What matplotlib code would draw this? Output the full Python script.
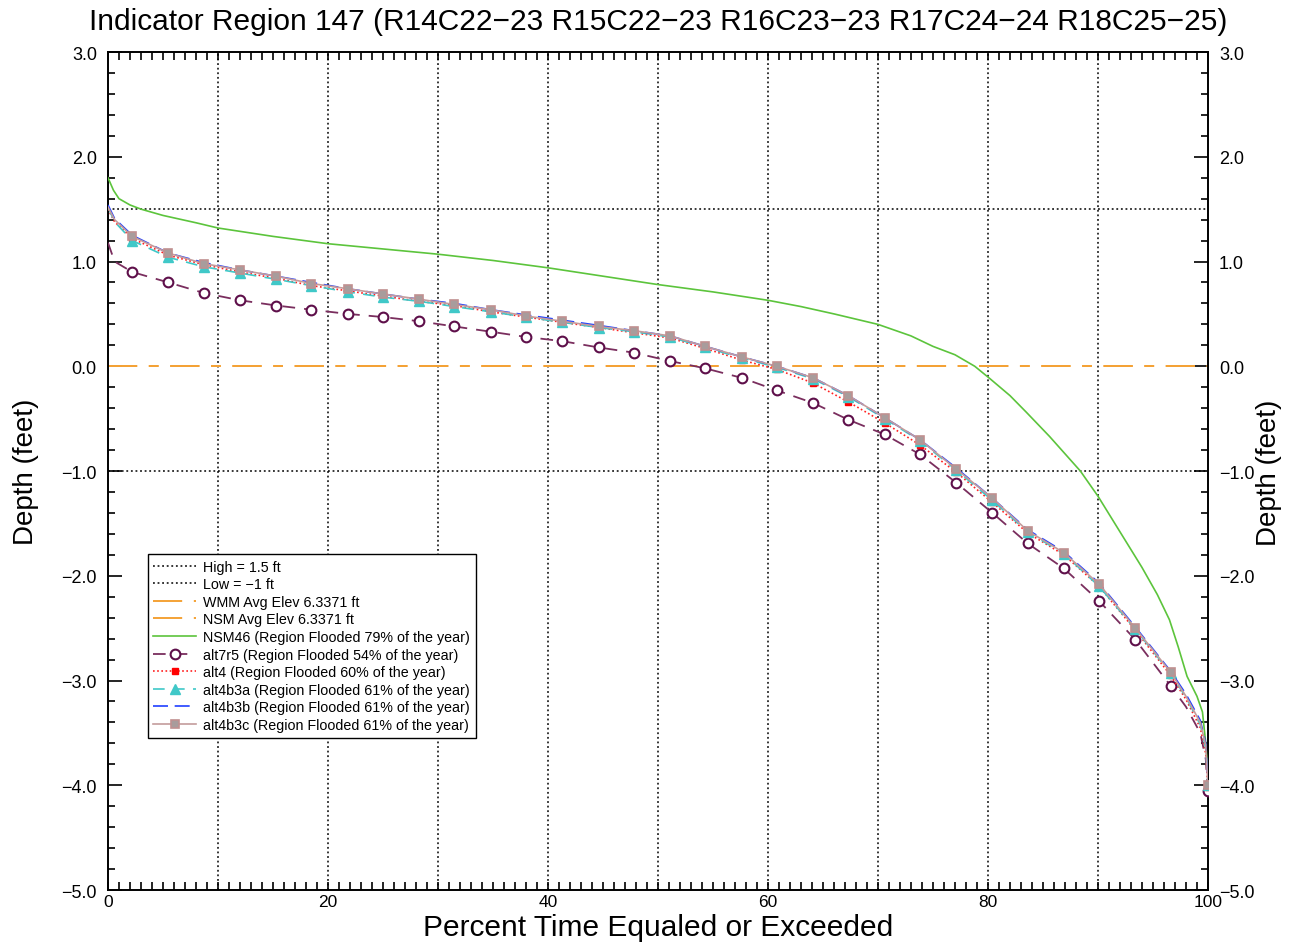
import matplotlib
matplotlib.use("Agg")
import matplotlib.pyplot as plt
from matplotlib.ticker import MultipleLocator, FuncFormatter

plt.rcParams['font.family'] = ['Liberation Sans', 'DejaVu Sans']

# ---------------- data ----------------
title = "Indicator Region 147 (R14C22\u221223 R15C22\u221223 R16C23\u221223 R17C24\u221224 R18C25\u221225)"

high_level = 1.5
low_level = -1.0
avg_elev = 0.0

# percent of time axis for the alternatives
x_alt = [0, 0.6, 2.2, 5.5, 8.7, 12.0, 15.3, 18.5, 21.8, 25.0, 28.3, 31.5, 34.8, 38.0,
         41.3, 44.6, 47.8, 51.1, 54.3, 57.6, 60.8, 64.1, 67.3, 70.6, 73.8, 77.1, 80.4,
         83.6, 86.9, 90.1, 93.4, 96.6, 98.0, 99.3, 99.8, 100]
marker_x = x_alt[2:32] + [100]

alt7r5 = [1.18, 1.00, 0.90, 0.80, 0.70, 0.63, 0.58, 0.54, 0.50, 0.47, 0.43, 0.38, 0.33, 0.28,
          0.24, 0.18, 0.13, 0.05, -0.02, -0.11, -0.23, -0.35, -0.51, -0.65, -0.84, -1.11, -1.40,
          -1.69, -1.93, -2.24, -2.61, -3.05, -3.25, -3.50, -3.75, -4.05]
alt4 = [1.50, 1.38, 1.22, 1.06, 0.97, 0.90, 0.84, 0.77, 0.72, 0.67, 0.62, 0.58, 0.52, 0.47,
        0.42, 0.37, 0.32, 0.27, 0.17, 0.06, -0.03, -0.16, -0.34, -0.54, -0.75, -1.01, -1.30,
        -1.59, -1.80, -2.10, -2.52, -2.95, -3.18, -3.45, -3.70, -4.02]
alt4b3a = [1.52, 1.38, 1.20, 1.04, 0.95, 0.89, 0.83, 0.77, 0.71, 0.66, 0.62, 0.57, 0.52, 0.47,
           0.42, 0.37, 0.33, 0.28, 0.18, 0.08, -0.01, -0.12, -0.29, -0.50, -0.71, -0.99, -1.28,
           -1.58, -1.79, -2.10, -2.51, -2.93, -3.16, -3.42, -3.65, -4.00]
alt4b3b = [1.54, 1.41, 1.25, 1.08, 0.99, 0.92, 0.86, 0.80, 0.74, 0.69, 0.64, 0.60, 0.54, 0.49,
           0.44, 0.39, 0.34, 0.29, 0.19, 0.09, 0.00, -0.11, -0.28, -0.49, -0.70, -0.97, -1.26,
           -1.56, -1.77, -2.07, -2.49, -2.91, -3.13, -3.38, -3.60, -3.98]
alt4b3c = [1.52, 1.40, 1.24, 1.08, 0.98, 0.92, 0.86, 0.79, 0.74, 0.69, 0.64, 0.59, 0.54, 0.48,
           0.43, 0.38, 0.34, 0.29, 0.19, 0.09, 0.00, -0.11, -0.28, -0.49, -0.70, -0.98, -1.26,
           -1.57, -1.78, -2.08, -2.50, -2.92, -3.15, -3.40, -3.62, -4.00]

x_nsm = [0, 0.5, 1, 2, 3, 5, 8, 10, 15, 20, 25, 30, 35, 40, 45, 50, 55, 60, 63, 66, 70, 73,
         75, 77, 78.8, 80.2, 82, 83.5, 85.6, 88.4, 90, 92, 94, 95.4, 96.5, 97.3, 98.1, 99,
         99.5, 99.8, 100]
nsm46 = [1.80, 1.68, 1.60, 1.54, 1.50, 1.44, 1.37, 1.32, 1.24, 1.17, 1.12, 1.07, 1.01, 0.94,
         0.86, 0.78, 0.71, 0.63, 0.57, 0.50, 0.40, 0.29, 0.19, 0.11, 0.00, -0.12, -0.28, -0.44,
         -0.67, -1.00, -1.24, -1.58, -1.92, -2.18, -2.42, -2.68, -2.96, -3.15, -3.30, -3.60, -3.90]

labels = ["High = 1.5 ft", "Low = \u22121 ft", "WMM Avg Elev 6.3371 ft", "NSM Avg Elev 6.3371 ft",
          "NSM46 (Region Flooded 79% of the year)", "alt7r5 (Region Flooded 54% of the year)",
          "alt4 (Region Flooded 60% of the year)", "alt4b3a (Region Flooded 61% of the year)",
          "alt4b3b (Region Flooded 61% of the year)", "alt4b3c (Region Flooded 61% of the year)"]

# ---------------- figure ----------------
fig = plt.figure(figsize=(12.9, 9.45), dpi=100)
ax = fig.add_axes([0.0837, 0.0571, 0.8527, 0.8868])

mk_idx = [x_alt.index(v) for v in marker_x]
dot = (0, (1.2, 1.8))
orange_dash = (0, (15, 6, 5, 6))

# vertical dotted grid every 10 %
for gx in range(10, 100, 10):
    ax.axvline(gx, color='black', lw=1.1, ls=dot, zorder=1)

ax.axhline(high_level, color='black', lw=1.1, ls=dot, label=labels[0], zorder=1)
ax.axhline(low_level, color='black', lw=1.1, ls=dot, label=labels[1], zorder=1)
ax.axhline(avg_elev, color='#f4a236', lw=1.4, ls=orange_dash, label=labels[2], zorder=2)
ax.axhline(avg_elev, color='#f4a236', lw=1.4, ls=orange_dash, label=labels[3], zorder=2)

ax.plot(x_nsm, nsm46, color='#5cc43c', lw=1.2, label=labels[4], zorder=3)
ax.plot(x_alt, alt7r5, color='#7a2e5e', lw=1.3, ls=(0, (7, 5)), marker='o', markevery=mk_idx,
        ms=7, mfc='white', mec='#5e0f4a', mew=1.5, label=labels[5], zorder=4)
ax.plot(x_alt, alt4, color='#ff2020', lw=1.2, ls=(0, (1, 1.5)), marker='s', markevery=mk_idx,
        ms=5, mfc='#ff0000', mec='#ff0000', label=labels[6], zorder=5)
ax.plot(x_alt, alt4b3a, color='#40c8c8', lw=1.2, ls=(0, (7, 5)), marker='^', markevery=mk_idx,
        ms=7, mfc='#40c8c8', mec='#40c8c8', label=labels[7], zorder=6)
ax.plot(x_alt, alt4b3b, color='#2040ff', lw=1.2, ls=(0, (9, 4)), label=labels[8], zorder=7)
ax.plot(x_alt, alt4b3c, color='#c49c9c', lw=1.2, marker='s', markevery=mk_idx,
        ms=6, mfc='#a89c9c', mec='#c09090', mew=1.2, label=labels[9], zorder=8)

ax.set_xlim(0, 100)
ax.set_ylim(-5, 3)
ax.xaxis.set_major_locator(MultipleLocator(20))
ax.xaxis.set_minor_locator(MultipleLocator(1))
ax.yaxis.set_major_locator(MultipleLocator(1))
ax.yaxis.set_minor_locator(MultipleLocator(0.2))
ax.yaxis.set_major_formatter(FuncFormatter(lambda v, p: ("%.1f" % v).replace('-', '\u2212')))
ax.tick_params(which='both', direction='in', top=True, right=True, width=1.2,
               labelsize=13, labelright=True)
ax.tick_params(axis='x', which='both', length=6)
ax.tick_params(axis='y', which='major', length=10)
ax.tick_params(axis='y', which='minor', length=5)
ax.tick_params(axis='y', which='major', pad=8)
ax.tick_params(axis='x', which='major', pad=3, labelsize=12.5)
for s in ax.spines.values():
    s.set_linewidth(1.4)

fig.text(0.51, 0.018, "Percent Time Equaled or Exceeded", fontsize=21.5, ha='center', va='center')
ax.set_ylabel("Depth (feet)", fontsize=20, labelpad=16)
fig.text(0.984, 0.5, "Depth (feet)", rotation=90, fontsize=20, ha='center', va='center')
fig.text(0.51, 0.977, title, fontsize=21.5, ha='center', va='center')

leg = ax.legend(loc='upper left', bbox_to_anchor=(0.036, 0.401), fontsize=10.3,
                frameon=True, fancybox=False, edgecolor='black', framealpha=1,
                handlelength=3.0, handletextpad=0.5, labelspacing=0.25, borderpad=0.4,
                borderaxespad=0)
leg.get_frame().set_linewidth(1.0)

fig.savefig("out.png", dpi=100)
